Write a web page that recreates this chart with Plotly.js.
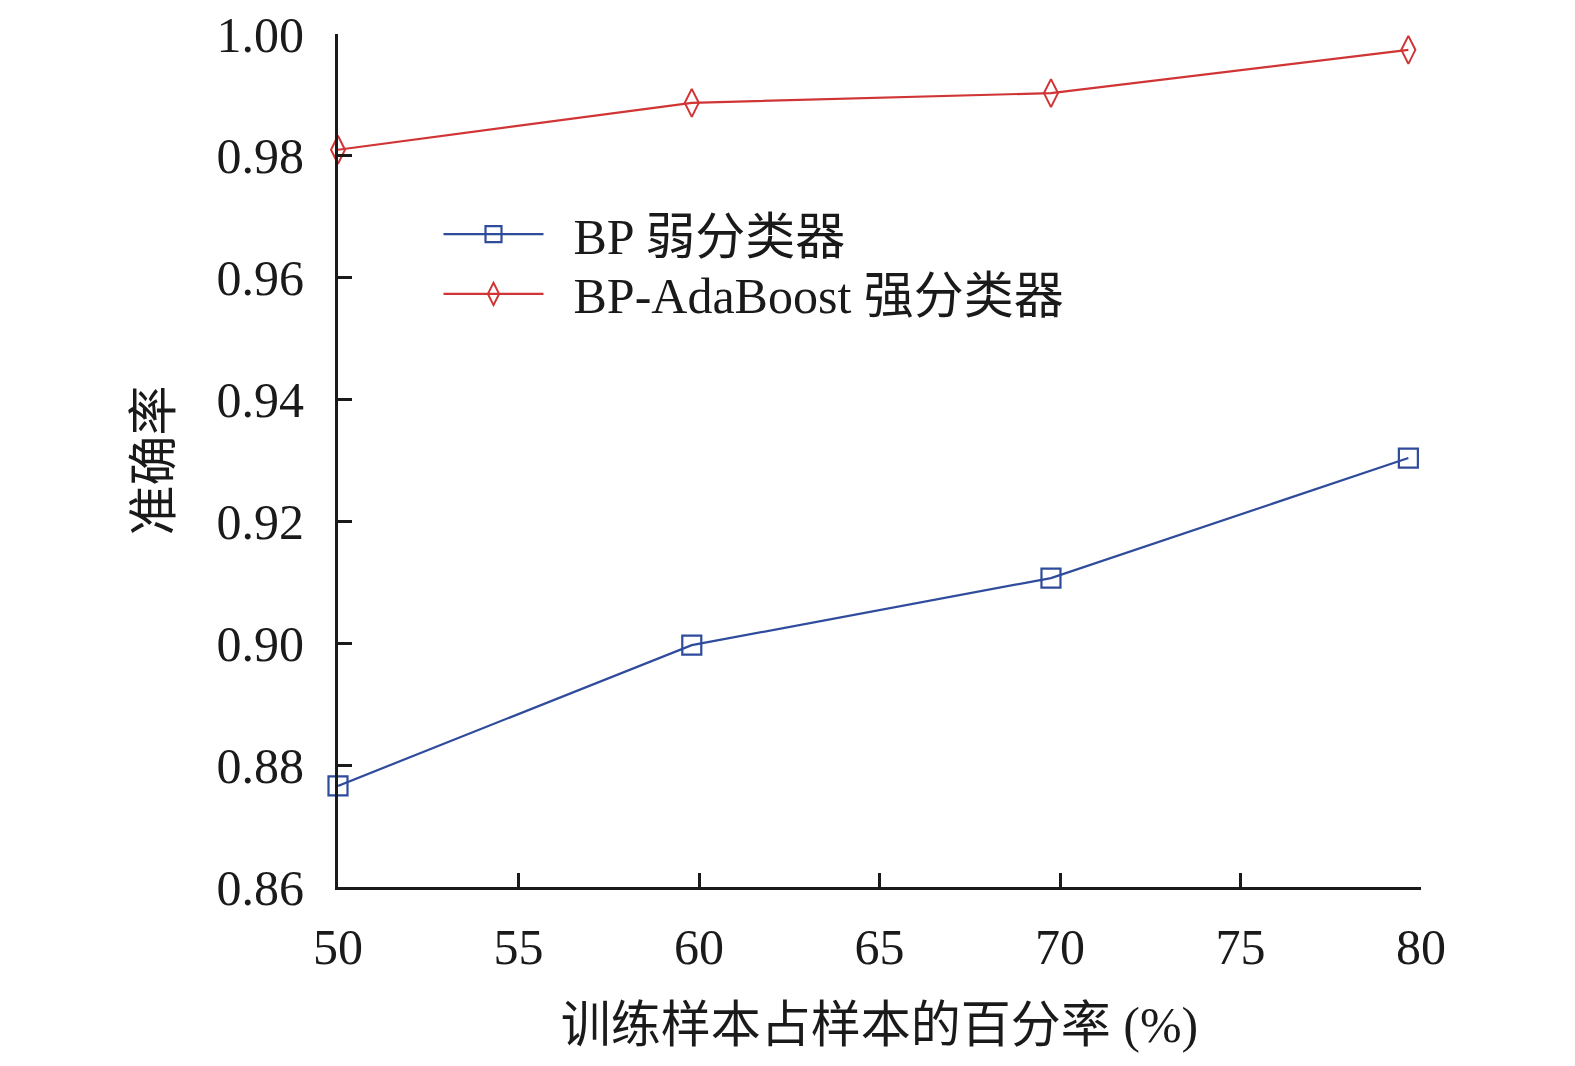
<!DOCTYPE html>
<html>
<head>
<meta charset="utf-8">
<script src="https://cdn.plot.ly/plotly-3.0.1.min.js"></script>
<style>
  html, body { margin: 0; padding: 0; background: #fff; }
  #chart { width: 1575px; height: 1066px; }
</style>
</head>
<body>
<div id="chart"></div>
<script>
// training share (%) as plotted
const xShare = [50, 59.8, 69.75, 79.65];
// accuracy
const bpWeak = [0.8766, 0.8997, 0.9107, 0.9304];
const bpAdaBoost = [0.981, 0.9887, 0.9903, 0.9974];

const seriesNames = ["BP 弱分类器", "BP-AdaBoost 强分类器"];
const xTicks = [50, 55, 60, 65, 70, 75, 80];
const yTicks = [0.86, 0.88, 0.90, 0.92, 0.94, 0.96, 0.98, 1.00];

const FONT = "'Liberation Serif', 'Times New Roman', 'Noto Sans CJK SC', serif";
const BLUE = "#2f4b9c";
const RED = "#d03434";
const GAP = "\u00a0\u00a0"; // space between legend line and label

var traces = [
  {
    x: xShare, y: bpWeak, name: GAP + seriesNames[0],
    type: "scatter", mode: "lines+markers", cliponaxis: false,
    legend: "legend",
    line: {color: BLUE, width: 2.2},
    marker: {symbol: "square-open", size: 19, color: BLUE, line: {width: 2.2, color: BLUE}}
  },
  {
    x: xShare, y: bpAdaBoost, name: GAP + seriesNames[1],
    type: "scatter", mode: "lines+markers", cliponaxis: false,
    legend: "legend2",
    line: {color: RED, width: 2.2},
    marker: {symbol: "diamond-tall-open", size: 20, color: RED, line: {width: 2, color: RED}}
  }
];

var axisCommon = {
  showgrid: false,
  zeroline: false,
  showline: true,
  linecolor: "#1a1a1a",
  linewidth: 3,
  ticks: "inside",
  ticklen: 14,
  tickwidth: 3,
  tickcolor: "#1a1a1a",
  tickfont: {family: FONT, size: 50, color: "#1a1a1a"},
  automargin: false
};

var legendCommon = {
  xanchor: "left", yanchor: "top",
  bgcolor: "rgba(0,0,0,0)",
  font: {family: FONT, size: 50, color: "#1a1a1a"},
  itemwidth: 100
};

var layout = {
  width: 1575,
  height: 1066,
  paper_bgcolor: "#fff",
  plot_bgcolor: "#fff",
  margin: {l: 338, r: 154, t: 34, b: 179},
  font: {family: FONT, color: "#1a1a1a"},
  xaxis: Object.assign({}, axisCommon, {
    range: [50, 80],
    tickvals: xTicks,
    ticklabelstandoff: 14,
    title: {text: "训练样本占样本的百分率 (%)", font: {family: FONT, size: 50, color: "#1a1a1a"}, standoff: 33}
  }),
  yaxis: Object.assign({}, axisCommon, {
    range: [0.86, 1.00],
    tickvals: yTicks,
    tickformat: ".2f",
    ticklabelstandoff: 21,
    title: {text: "准确率", font: {family: FONT, size: 50, color: "#1a1a1a"}, standoff: 30}
  }),
  showlegend: true,
  legend: Object.assign({}, legendCommon, {x: 0.0928, y: 0.811}),
  legend2: Object.assign({}, legendCommon, {x: 0.0928, y: 0.741})
};

Plotly.newPlot("chart", traces, layout, {displayModeBar: false, staticPlot: true});
</script>
</body>
</html>
